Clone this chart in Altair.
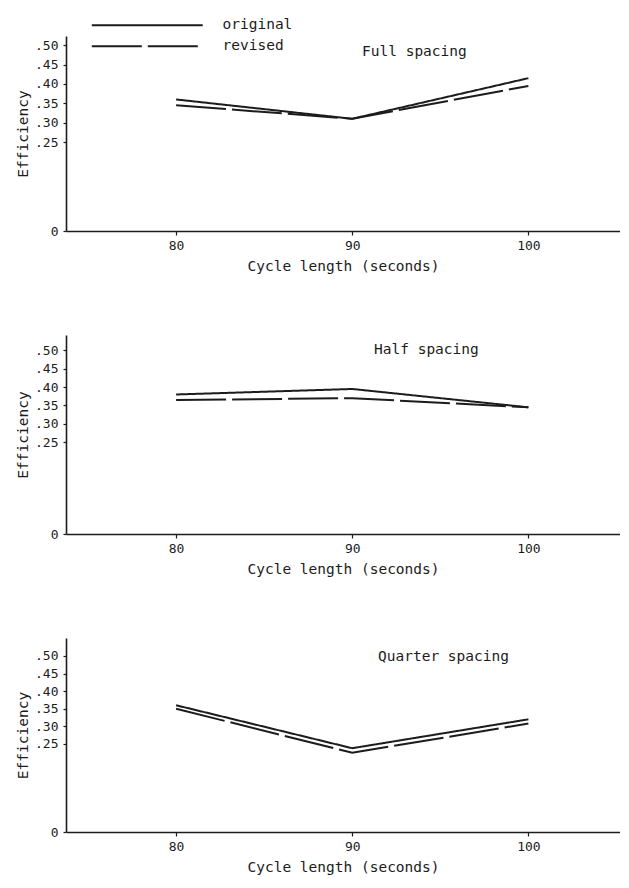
import altair as alt
import pandas as pd

# ---- data ----
cycle = [80, 90, 100]
series_names = ["original", "revised"]
panel_names = ["Full spacing", "Half spacing", "Quarter spacing"]
full_original = [0.36, 0.31, 0.415]
full_revised = [0.345, 0.31, 0.395]
half_original = [0.38, 0.395, 0.345]
half_revised = [0.365, 0.37, 0.345]
quarter_original = [0.36, 0.238, 0.32]
quarter_revised = [0.35, 0.225, 0.308]
y_ticks = [0, 0.25, 0.30, 0.35, 0.40, 0.45, 0.50]
x_ticks = [80, 90, 100]

FONT = "DejaVu Sans Mono"
INK = "#1c1c1c"
W = 554


def make_df(orig, rev):
    rows = []
    for s, vals in zip(series_names, [orig, rev]):
        for c, v in zip(cycle, vals):
            rows.append({"cycle": c, "eff": v, "series": s})
    return pd.DataFrame(rows)


def panel(name, orig, rev, yscale, height, tx, ty, show_legend):
    df = make_df(orig, rev)
    if show_legend:
        legend = alt.Legend(
            title=None, orient="none", legendX=74, legendY=-18,
            symbolType="M -10 0 L 10 0", symbolSize=123, symbolStrokeWidth=2,
            symbolStrokeColor=INK, labelOffset=68, rowPadding=6,
            labelFont=FONT, labelFontSize=14.5, labelColor=INK,
        )
    else:
        legend = None
    lines = alt.Chart(df).mark_line(strokeWidth=2, color=INK).encode(
        x=alt.X("cycle:Q",
                scale=alt.Scale(domain=[73.75, 105.2], nice=False, zero=False),
                axis=alt.Axis(values=x_ticks, title="Cycle length (seconds)",
                              grid=False, tickSize=4, labelPadding=4,
                              titlePadding=7)),
        y=alt.Y("eff:Q",
                scale=yscale,
                axis=alt.Axis(values=y_ticks, title="Efficiency", grid=False,
                              tickSize=3, labelPadding=5, titlePadding=4,
                              labelExpr="datum.value == 0 ? '0' : replace(format(datum.value, '.2f'), '0.', '.')")),
        strokeDash=alt.StrokeDash("series:N",
                                  scale=alt.Scale(domain=series_names,
                                                  range=[[1, 0], [50, 6]]),
                                  legend=legend),
    )
    label = alt.Chart(pd.DataFrame({"label": [name]})).mark_text(
        align="left", baseline="middle", font=FONT, fontSize=14.5, color=INK
    ).encode(x=alt.value(tx), y=alt.value(ty), text="label:N")
    return alt.layer(lines, label).properties(width=W, height=height)


# the top panel of the original has a compressed 0-.25 stretch on its axis
s1 = alt.Scale(domain=[0, 0.25, 0.524], range=[195, 106, 0], nice=False)
s2 = alt.Scale(domain=[0, 0.542], nice=False)
s3 = alt.Scale(domain=[0, 0.551], nice=False)

p1 = panel(panel_names[0], full_original, full_revised, s1, 195, 296, 16, True)
p2 = panel(panel_names[1], half_original, half_revised, s2, 199, 308, 15, False)
p3 = panel(panel_names[2], quarter_original, quarter_revised, s3, 194, 312, 19, False)

chart = alt.vconcat(p1, p2, p3, spacing=62).properties(
    padding={"left": 7, "top": 10, "right": 0, "bottom": 3}
).configure(
    background="white"
).configure_view(
    stroke=None
).configure_axis(
    labelFont=FONT, titleFont=FONT, labelFontSize=13, titleFontSize=14.5,
    titleFontWeight="normal", labelColor=INK, titleColor=INK,
    domainColor=INK, tickColor=INK, domainWidth=1.6, tickWidth=1.2,
)

chart.save("out.html", embed_options={"renderer": "svg", "actions": False})
